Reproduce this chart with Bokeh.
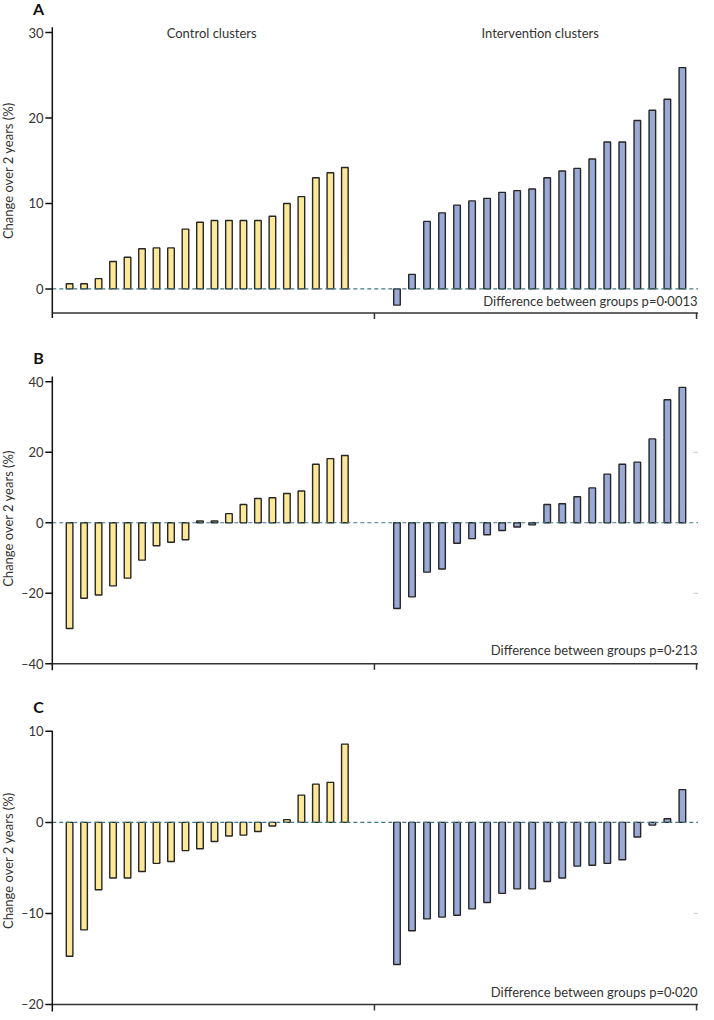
import math
from bokeh.plotting import figure
from bokeh.layouts import column
from bokeh.models import ColumnDataSource
from bokeh.core.properties import value
from bokeh.embed import file_html
from bokeh.resources import INLINE

# ---------------- data ----------------
a_control = [0.6, 0.6, 1.2, 3.2, 3.7, 4.7, 4.8, 4.8, 7.0, 7.8, 8.0, 8.0, 8.0, 8.0, 8.5, 10.0, 10.8, 13.0, 13.6, 14.2]
a_interv = [-1.9, 1.7, 7.9, 8.9, 9.8, 10.3, 10.6, 11.3, 11.5, 11.7, 13.0, 13.8, 14.1, 15.2, 17.2, 17.2, 19.7, 20.9, 22.2, 25.9]
b_control = [-30.0, -21.4, -20.5, -17.9, -15.7, -10.6, -6.5, -5.5, -4.8, 0.5, 0.5, 2.6, 5.2, 6.9, 7.1, 8.3, 9.0, 16.6, 18.2, 19.1]
b_interv = [-24.3, -21.0, -14.0, -13.1, -5.8, -4.5, -3.4, -2.2, -1.2, -0.6, 5.2, 5.4, 7.4, 9.9, 13.8, 16.6, 17.2, 23.8, 34.9, 38.4]
c_control = [-14.7, -11.8, -7.4, -6.1, -6.1, -5.4, -4.5, -4.3, -3.1, -2.9, -2.1, -1.5, -1.4, -1.0, -0.4, 0.3, 3.0, 4.2, 4.4, 8.6]
c_interv = [-15.6, -11.9, -10.6, -10.4, -10.2, -9.5, -8.8, -7.8, -7.3, -7.3, -6.5, -6.1, -4.8, -4.7, -4.5, -4.1, -1.6, -0.3, 0.4, 3.6]

panel_letters = ["A", "B", "C"]
group_labels = ["Control clusters", "Intervention clusters"]
p_texts = ["Difference between groups p=0\u00b70013",
           "Difference between groups p=0\u00b7213",
           "Difference between groups p=0\u00b7020"]
y_ticks = [[0, 10, 20, 30], [-40, -20, 0, 20, 40], [-20, -10, 0, 10]]
group_edges = [22, 44]
y_axis_label = "Change over 2 years (%)"

# ---------------- style / layout ----------------
FONT = "Lato"
YELLOW = "#FCE896"
BLUE = "#9AA9D6"
EDGE = "#262626"
TXT = "#333333"
AXC = "#111111"
ZERO = "#437786"

REF_W, REF_H = 714.0, 1020.0
FIG_W = 698
SY = 1012.0 / REF_H            # vertical compression of the layout
UNIT = 659.0 / 44.0             # reference px per x unit
SXPX = FIG_W / REF_W * UNIT     # figure px per x unit


def X(ref):
    return (ref - 53.0) / UNIT


C_START, C_STEP = 1.18, 0.9895
I_START, I_STEP = 23.54, 1.026
BAR_W = 0.45

# per panel layout (reference pixel positions)
panels = [
    dict(ctrl=a_control, intv=a_interv, h=338, top_ref=0.0,
         cal=((30, 32.3), (0, 290.7)), base_ref=315.0, ax_top=27.0, ax_bot=320.0,
         letter_y=8.0, lab_y=171.5, p_y=303.0, right_ticks=[], groups=True),
    dict(ctrl=b_control, intv=b_interv, h=348, top_ref=340.7,
         cal=((40, 384.3), (-40, 668.6)), base_ref=668.6, ax_top=379.0, ax_bot=675.0,
         letter_y=360.0, lab_y=522.0, p_y=655.0, right_ticks=[20, -20], groups=False),
    dict(ctrl=c_control, intv=c_interv, h=326, top_ref=691.5,
         cal=((10, 736.7), (-20, 1012.0)), base_ref=1012.0, ax_top=736.0, ax_bot=1019.0,
         letter_y=712.0, lab_y=867.0, p_y=999.0, right_ticks=[-10], groups=False),
]

figs = []
for k, s in enumerate(panels):
    (v1, r1), (v2, r2) = s["cal"]
    scale = (r2 - r1) * SY / (v1 - v2)           # figure px per y unit
    fig_top_page = s["top_ref"] * SY
    y_top = v1 + (r1 * SY - fig_top_page) / scale
    y_bot = y_top - s["h"] / scale

    def Y(ref, v1=v1, r1=r1, scale=scale):
        return v1 - (ref - r1) * SY / scale

    p = figure(width=FIG_W, height=s["h"], x_range=(X(0), X(REF_W)), y_range=(y_bot, y_top),
               x_axis_type=None, y_axis_type=None,
               toolbar_location=None, output_backend="svg",
               min_border=0, min_border_left=0, min_border_right=0,
               min_border_top=0, min_border_bottom=0,
               outline_line_color=None, background_fill_color="white")
    p.grid.visible = False

    base = Y(s["base_ref"])
    tick_px_y = 1.0 / scale
    tick_px_x = 1.0 / SXPX

    # bars
    src_c = ColumnDataSource(dict(x=[C_START + i * C_STEP for i in range(len(s["ctrl"]))], top=s["ctrl"]))
    src_i = ColumnDataSource(dict(x=[I_START + i * I_STEP for i in range(len(s["intv"]))], top=s["intv"]))
    p.vbar(x="x", top="top", bottom=0, width=BAR_W, source=src_c,
           fill_color=YELLOW, line_color=EDGE, line_width=1.4)
    p.vbar(x="x", top="top", bottom=0, width=BAR_W, source=src_i,
           fill_color=BLUE, line_color=EDGE, line_width=1.4)

    # zero reference line
    p.segment(x0=[0], x1=[X(REF_W)], y0=[0], y1=[0], line_color=ZERO,
              line_dash="4 3", line_width=1.1)

    # bottom axis and group boundary ticks
    p.segment(x0=[0], x1=[X(REF_W)], y0=[base], y1=[base], line_color="#333333", line_width=1.5)
    p.segment(x0=group_edges, x1=group_edges, y0=[base] * len(group_edges),
              y1=[base - 6 * tick_px_y] * len(group_edges), line_color="#333333", line_width=1.5)

    # y axis line, ticks, tick labels
    p.segment(x0=[0], x1=[0], y0=[Y(s["ax_bot"])], y1=[Y(s["ax_top"])], line_color=AXC, line_width=1.5)
    yt = y_ticks[k]
    p.segment(x0=[0] * len(yt), x1=[-7 * tick_px_x] * len(yt), y0=yt, y1=yt,
              line_color=AXC, line_width=1.5)
    labels = [("\u2013" + str(-t)) if t < 0 else str(t) for t in yt]
    p.text(x=[X(44.0)] * len(yt), y=yt, text=labels, text_font=value(FONT),
           text_font_size=value("13px"), text_color=TXT, text_align="right",
           text_baseline="middle")

    # faint right-edge ticks
    if s["right_ticks"]:
        rt = s["right_ticks"]
        p.segment(x0=[X(709)] * len(rt), x1=[X(714)] * len(rt), y0=rt, y1=rt,
                  line_color="#cfcfcf", line_width=1.2)

    # axis title
    p.text(x=[X(7.5)], y=[Y(s["lab_y"])], text=[y_axis_label], angle=math.pi / 2,
           text_font=value(FONT), text_font_size=value("13px"), text_color=TXT,
           text_align="center", text_baseline="middle")

    # panel letter
    p.text(x=[X(39)], y=[Y(s["letter_y"])], text=[panel_letters[k]], text_font=value(FONT),
           text_font_size=value("16px"), text_font_style="bold", text_color="#111111",
           text_align="center", text_baseline="middle")

    # p-value text
    p.text(x=[X(713)], y=[Y(s["p_y"])], text=[p_texts[k]], text_font=value(FONT),
           text_font_size=value("13px"), text_color=TXT, text_align="right",
           text_baseline="middle")

    if s["groups"]:
        p.text(x=[X(216), X(552)], y=[Y(33)] * 2, text=group_labels, text_font=value(FONT),
               text_font_size=value("13px"), text_color=TXT, text_align="center",
               text_baseline="middle")
    figs.append(p)

layout = column(*figs, spacing=0)
open("out.html", "w").write(file_html(layout, INLINE))
